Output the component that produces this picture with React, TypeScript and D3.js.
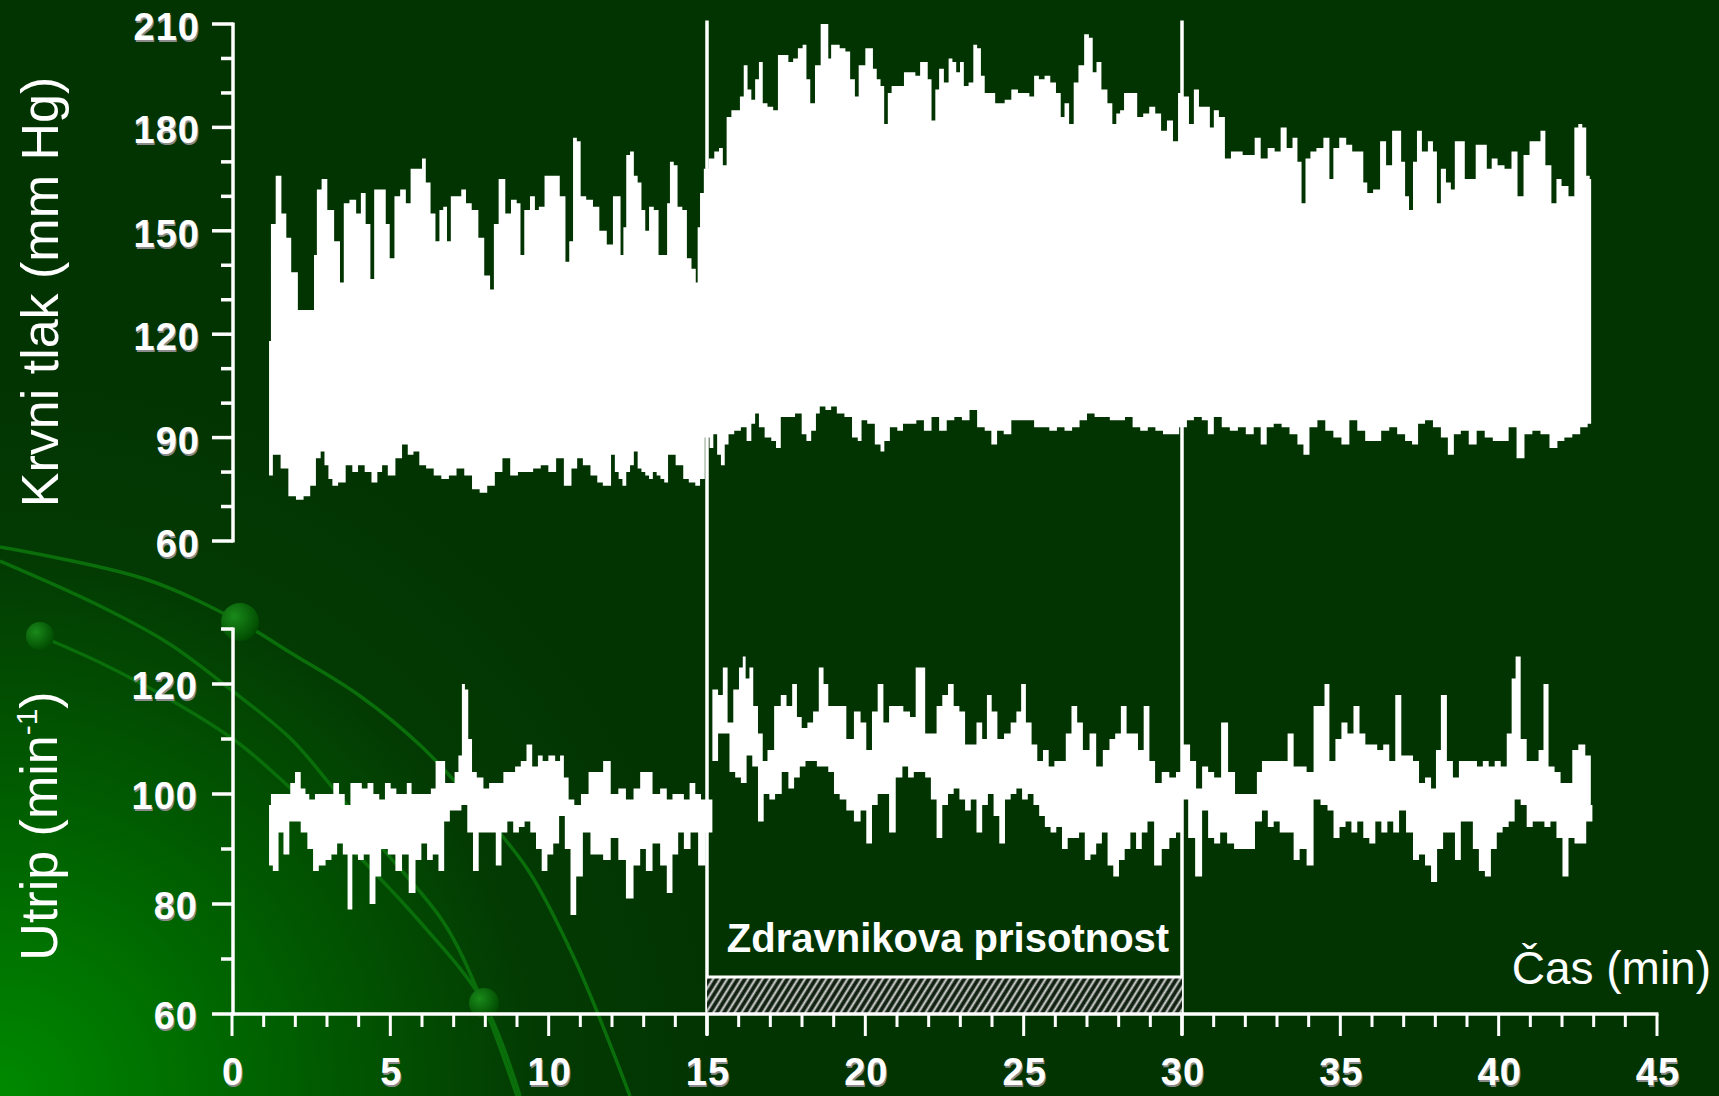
import React, { useEffect } from 'react';
import * as d3 from 'd3';

// ---- Data (time in min, value) ----
const bpUpper: [number, number][] = [
  [1.17,118],[1.29,152],[1.47,166],[1.65,155],[1.78,148],[1.96,138],[2.2,127],[2.56,127],[2.62,143],[2.74,162],[2.92,165],[3.1,156],[3.35,147],[3.47,135],[3.59,158],[3.83,159],[4.01,155],[4.13,161],[4.31,152],[4.43,136],[4.55,162],[4.79,162],[4.92,152],[5.04,142],[5.22,160],[5.4,162],[5.58,158],[5.7,168],[5.94,168],[6.06,171],[6.18,164],[6.36,155],[6.49,147],[6.61,156],[6.73,157],[6.85,147],[6.97,160],[7.15,160],[7.33,162],[7.45,158],[7.69,156],[7.87,148],[8.06,137],[8.24,133],[8.3,152],[8.54,165],[8.72,155],[8.9,159],[9.08,158],[9.14,143],[9.32,156],[9.5,160],[9.63,156],[9.75,157],[9.99,166],[10.23,166],[10.47,160],[10.59,141],[10.71,147],[10.83,177],[10.95,176],[11.07,160],[11.3,159],[11.5,157],[11.7,150],[11.97,146],[12.09,160],[12.21,160],[12.33,143],[12.39,151],[12.51,172],[12.63,173],[12.75,166],[12.87,164],[12.99,156],[13.11,150],[13.23,157],[13.41,156],[13.53,143],[13.71,143],[13.77,158],[13.89,170],[14.01,169],[14.13,157],[14.31,156],[14.42,142],[14.6,139],[14.69,135],[14.72,151],[14.84,161],[14.96,168],[15.14,171],[15.32,173],[15.44,174],[15.56,169],[15.68,183],[15.86,185],[15.98,185],[16.1,189],[16.22,198],[16.34,191],[16.46,188],[16.58,194],[16.7,199],[16.82,187],[17.0,186],[17.18,185],[17.3,201],[17.48,201],[17.66,199],[17.78,200],[17.96,203],[18.08,204],[18.2,194],[18.32,187],[18.5,198],[18.68,210],[18.8,210],[18.86,200],[18.98,204],[19.1,204],[19.28,203],[19.46,202],[19.58,194],[19.76,189],[19.82,198],[19.94,198],[20.06,203],[20.18,203],[20.3,197],[20.42,194],[20.54,192],[20.65,181],[20.77,190],[20.89,192],[21.13,192],[21.31,196],[21.49,196],[21.67,195],[21.79,199],[21.91,199],[22.03,194],[22.15,182],[22.27,191],[22.39,197],[22.57,193],[22.69,200],[22.81,199],[22.93,196],[23.05,199],[23.17,192],[23.35,193],[23.47,204],[23.59,203],[23.71,195],[23.83,190],[24.01,190],[24.19,187],[24.31,187],[24.49,188],[24.73,191],[24.91,190],[25.09,190],[25.27,189],[25.39,195],[25.57,194],[25.75,195],[25.93,193],[26.11,190],[26.23,183],[26.35,187],[26.52,181],[26.64,193],[26.82,198],[27.0,207],[27.12,206],[27.24,196],[27.36,199],[27.55,191],[27.74,187],[27.86,181],[27.99,184],[28.1,185],[28.24,190],[28.49,190],[28.68,183],[28.87,184],[29.06,186],[29.25,184],[29.43,179],[29.62,182],[29.81,176],[29.94,190],[30.13,189],[30.31,181],[30.44,191],[30.63,186],[30.82,186],[30.94,180],[31.07,185],[31.26,183],[31.45,171],[31.64,173],[31.82,173],[32.01,172],[32.2,172],[32.39,177],[32.58,171],[32.83,174],[33.02,173],[33.21,180],[33.4,174],[33.58,177],[33.71,170],[33.84,158],[33.96,171],[34.15,173],[34.34,174],[34.59,177],[34.72,165],[34.84,174],[35.09,177],[35.28,175],[35.47,173],[35.66,173],[35.79,164],[35.91,161],[36.16,162],[36.35,176],[36.54,169],[36.73,179],[36.86,179],[36.98,170],[37.11,160],[37.23,156],[37.36,170],[37.48,179],[37.67,173],[37.86,176],[37.99,173],[38.11,158],[38.24,168],[38.43,164],[38.55,162],[38.68,176],[38.87,176],[38.99,165],[39.18,165],[39.37,175],[39.56,175],[39.69,168],[39.87,171],[40.06,169],[40.31,168],[40.5,173],[40.69,160],[40.88,172],[41.07,176],[41.26,176],[41.38,179],[41.57,169],[41.76,158],[41.89,165],[42.08,163],[42.33,160],[42.45,180],[42.58,181],[42.7,180],[42.83,166],[42.92,165]
];

const bpLower: [number, number][] = [
  [1.17,79],[1.41,85],[1.66,81],[1.9,73],[2.14,72],[2.38,73],[2.56,76],[2.74,84],[2.86,86],[2.98,82],[3.11,78],[3.23,76],[3.47,77],[3.71,82],[3.89,80],[4.07,82],[4.31,80],[4.5,77],[4.68,80],[4.8,82],[5.04,79],[5.28,84],[5.46,88],[5.64,85],[5.82,86],[6.01,82],[6.25,81],[6.49,79],[6.73,78],[6.97,79],[7.21,81],[7.46,79],[7.7,75],[7.94,74],[8.18,76],[8.42,80],[8.66,84],[8.91,79],[9.15,80],[9.39,80],[9.63,81],[9.87,82],[10.11,80],[10.36,84],[10.6,76],[10.84,81],[10.96,84],[11.2,82],[11.44,79],[11.63,77],[11.79,76],[11.91,76],[12.03,85],[12.15,80],[12.27,78],[12.39,76],[12.51,80],[12.63,82],[12.75,86],[12.87,81],[12.99,80],[13.11,79],[13.23,78],[13.35,80],[13.47,79],[13.59,78],[13.71,77],[13.83,85],[13.95,85],[14.07,82],[14.19,82],[14.31,78],[14.54,77],[14.72,76],[14.84,78],[15.02,90],[15.14,87],[15.26,91],[15.38,85],[15.5,82],[15.62,88],[15.74,91],[15.98,92],[16.16,93],[16.34,89],[16.46,94],[16.58,97],[16.7,93],[16.94,90],[17.12,89],[17.24,87],[17.42,96],[17.66,96],[17.9,97],[18.08,91],[18.2,89],[18.38,92],[18.5,97],[18.62,99],[18.86,98],[18.98,99],[19.22,97],[19.46,96],[19.7,90],[19.82,89],[19.94,95],[20.18,94],[20.42,88],[20.54,86],[20.66,89],[20.89,93],[21.13,92],[21.25,94],[21.49,94],[21.73,95],[21.97,92],[22.21,96],[22.45,92],[22.69,95],[22.93,96],[23.17,95],[23.41,98],[23.65,93],[23.89,92],[24.07,88],[24.25,92],[24.49,91],[24.73,95],[24.97,95],[25.21,95],[25.45,93],[25.69,93],[25.93,92],[26.17,93],[26.41,92],[26.65,93],[26.88,95],[27.12,97],[27.36,96],[27.6,96],[27.84,95],[28.08,95],[28.32,96],[28.56,93],[28.8,92],[29.04,93],[29.28,92],[29.52,91],[29.76,91],[30.06,93],[30.25,95],[30.5,96],[30.75,95],[30.88,91],[31.13,96],[31.38,93],[31.64,92],[31.89,93],[32.14,91],[32.39,93],[32.58,88],[32.77,93],[33.02,94],[33.27,93],[33.52,91],[33.77,88],[33.9,85],[34.15,93],[34.4,95],[34.65,92],[34.91,90],[35.16,88],[35.41,95],[35.66,92],[35.91,89],[36.16,89],[36.42,92],[36.67,93],[36.92,91],[37.17,89],[37.36,88],[37.55,94],[37.8,95],[38.05,93],[38.3,90],[38.49,85],[38.68,91],[38.93,92],[39.18,88],[39.43,92],[39.69,90],[39.94,89],[40.19,89],[40.44,93],[40.69,84],[40.94,91],[41.19,92],[41.45,91],[41.76,87],[41.95,89],[42.2,90],[42.45,91],[42.7,93],[42.92,94]
];

const hrUpper: [number, number][] = [
  [1.17,98],[1.29,100],[1.78,100],[1.9,102],[2.08,104],[2.26,101],[2.38,100],[2.5,99],[2.74,100],[2.92,100],[3.11,100],[3.29,102],[3.47,100],[3.65,98],[3.83,102],[4.01,102],[4.19,101],[4.37,102],[4.56,100],[4.74,99],[4.92,102],[5.1,101],[5.28,100],[5.46,100],[5.58,102],[5.76,100],[6.01,100],[6.19,100],[6.37,101],[6.49,106],[6.67,106],[6.79,102],[6.97,102],[7.09,104],[7.21,107],[7.31,120],[7.4,119],[7.52,110],[7.64,104],[7.82,103],[8.06,101],[8.18,102],[8.36,102],[8.48,102],[8.66,104],[8.85,104],[9.03,105],[9.21,106],[9.39,109],[9.57,105],[9.75,107],[9.87,106],[10.11,107],[10.3,106],[10.42,107],[10.54,103],[10.72,99],[10.9,98],[11.14,100],[11.38,104],[11.6,104],[11.84,106],[12.08,100],[12.32,101],[12.56,99],[12.8,101],[12.98,104],[13.16,104],[13.4,100],[13.64,101],[13.82,99],[14.0,100],[14.18,100],[14.36,99],[14.54,102],[14.72,100],[14.9,99],[15.08,99],[15.26,119],[15.44,118],[15.56,123],[15.74,113],[15.92,119],[16.1,123],[16.16,125],[16.28,121],[16.4,123],[16.52,116],[16.7,111],[16.82,106],[17.0,108],[17.24,116],[17.42,118],[17.6,116],[17.78,120],[17.9,114],[18.08,112],[18.26,113],[18.44,115],[18.62,123],[18.74,120],[18.92,116],[19.1,116],[19.28,116],[19.52,110],[19.76,115],[19.94,113],[20.12,108],[20.3,115],[20.48,120],[20.66,113],[20.84,116],[21.08,116],[21.32,115],[21.5,114],[21.68,123],[21.8,123],[21.98,111],[22.16,111],[22.34,116],[22.52,118],[22.7,120],[22.88,116],[23.06,115],[23.24,109],[23.42,109],[23.6,113],[23.78,110],[23.9,118],[24.08,115],[24.26,110],[24.5,111],[24.68,113],[24.86,115],[24.98,120],[25.16,113],[25.34,109],[25.52,106],[25.7,108],[25.88,105],[26.06,106],[26.24,106],[26.42,111],[26.6,116],[26.78,113],[26.96,108],[27.2,111],[27.38,105],[27.62,108],[27.8,110],[27.98,111],[28.16,116],[28.34,111],[28.52,111],[28.7,108],[28.88,116],[29.06,106],[29.24,102],[29.48,104],[29.72,103],[29.9,104],[30.16,109],[30.35,106],[30.54,101],[30.73,105],[30.92,104],[31.11,103],[31.36,113],[31.55,104],[31.8,100],[32.05,100],[32.3,100],[32.43,104],[32.62,106],[32.8,106],[32.99,106],[33.24,106],[33.43,111],[33.62,105],[33.81,105],[34.06,104],[34.25,116],[34.44,116],[34.56,120],[34.75,106],[34.94,110],[35.13,113],[35.32,111],[35.51,116],[35.7,111],[35.88,109],[36.07,109],[36.26,108],[36.45,109],[36.64,106],[36.83,118],[37.02,107],[37.2,107],[37.39,106],[37.58,102],[37.77,103],[37.96,101],[38.08,108],[38.27,118],[38.46,106],[38.65,103],[38.84,106],[39.03,106],[39.22,106],[39.41,105],[39.59,106],[39.78,105],[39.97,106],[40.16,105],[40.35,111],[40.47,121],[40.6,125],[40.79,110],[40.98,106],[41.17,106],[41.35,108],[41.48,120],[41.67,105],[41.86,104],[42.05,102],[42.23,102],[42.42,108],[42.61,109],[42.86,107],[42.96,98]
];

const hrLower: [number, number][] = [
  [1.17,87],[1.41,86],[1.53,93],[1.72,89],[1.9,95],[2.08,95],[2.26,93],[2.5,90],[2.62,86],[2.86,87],[3.05,88],[3.23,89],[3.41,91],[3.59,89],[3.71,79],[3.89,89],[4.07,88],[4.25,89],[4.44,80],[4.62,85],[4.8,90],[5.04,89],[5.28,86],[5.46,89],[5.7,82],[5.89,88],[6.07,91],[6.25,88],[6.43,89],[6.61,86],[6.79,95],[6.97,97],[7.15,97],[7.34,98],[7.52,93],[7.7,86],[7.88,93],[8.06,93],[8.24,93],[8.42,87],[8.6,93],[8.79,95],[8.97,93],[9.15,94],[9.33,95],[9.51,93],[9.69,90],[9.87,86],[10.05,89],[10.24,91],[10.42,96],[10.6,90],[10.78,78],[10.96,85],[11.2,93],[11.44,89],[11.6,89],[11.84,88],[12.08,92],[12.32,88],[12.56,81],[12.8,87],[12.98,90],[13.16,86],[13.4,91],[13.64,87],[13.82,82],[14.0,89],[14.18,93],[14.36,90],[14.6,93],[14.84,87],[15.08,93],[15.26,106],[15.44,111],[15.62,111],[15.8,104],[15.98,103],[16.16,102],[16.34,107],[16.52,105],[16.7,95],[16.88,100],[17.06,99],[17.24,100],[17.48,104],[17.66,101],[17.84,103],[18.02,105],[18.2,106],[18.38,106],[18.56,105],[18.74,105],[18.92,104],[19.1,100],[19.28,99],[19.52,97],[19.76,95],[19.94,97],[20.12,91],[20.3,98],[20.48,100],[20.66,100],[20.84,93],[21.08,103],[21.26,105],[21.44,103],[21.62,104],[21.8,104],[21.98,103],[22.16,99],[22.34,92],[22.52,98],[22.7,100],[22.88,101],[23.06,99],[23.24,97],[23.42,99],[23.6,93],[23.78,98],[23.96,100],[24.14,96],[24.32,91],[24.5,99],[24.68,100],[24.86,101],[25.04,99],[25.22,100],[25.4,98],[25.58,96],[25.76,94],[25.94,93],[26.12,94],[26.3,90],[26.48,92],[26.66,92],[26.84,93],[27.02,88],[27.2,89],[27.38,91],[27.56,93],[27.74,87],[27.92,85],[28.1,88],[28.28,90],[28.46,93],[28.64,90],[28.82,93],[29.0,95],[29.24,87],[29.48,90],[29.72,92],[29.9,93],[30.1,99],[30.29,92],[30.54,85],[30.73,97],[30.92,92],[31.11,91],[31.3,93],[31.55,91],[31.74,90],[31.92,90],[32.18,90],[32.43,95],[32.62,97],[32.8,94],[32.99,95],[33.18,93],[33.43,93],[33.62,88],[33.81,90],[34.06,87],[34.25,99],[34.5,98],[34.69,97],[34.88,92],[35.07,94],[35.26,95],[35.44,93],[35.63,95],[35.82,92],[36.01,91],[36.2,95],[36.39,93],[36.58,95],[36.76,93],[36.95,97],[37.2,93],[37.39,88],[37.58,89],[37.77,87],[37.96,84],[38.15,90],[38.34,93],[38.53,93],[38.71,88],[38.9,95],[39.09,95],[39.28,90],[39.47,86],[39.66,85],[39.85,90],[40.03,93],[40.22,94],[40.41,95],[40.6,99],[40.79,98],[40.98,94],[41.17,95],[41.35,95],[41.54,94],[41.73,95],[41.92,92],[42.11,85],[42.3,92],[42.49,91],[42.67,91],[42.86,95],[42.96,95]
];

const bpTickLabels = [60, 90, 120, 150, 180, 210];
const hrTickLabels = [60, 80, 100, 120];
const timeTickLabels = [0, 5, 10, 15, 20, 25, 30, 35, 40, 45];
const presence = [15, 30];
const presenceLabel = 'Zdravnikova prisotnost';
const bpTitle = 'Krvni tlak (mm Hg)';
const timeTitle = 'Čas (min)';

// decorative slide arcs (background ornament)
const arcA: [number, number][] = [[0,547],[145,579],[240,622],[291,653],[360,696],[421,746],[480,810],[528,870],[575,960],[630,1096]];
const arcB: [number, number][] = [[0,561],[96,604],[168,643],[230,689],[291,739],[333,788],[383,849],[444,923],[482,1001],[517,1096]];
const arcC: [number, number][] = [[40,636],[103,664],[176,703],[237,742],[287,785],[344,841],[421,923],[484,1003],[520,1096]];

const BG = '#023402';
const FONT = "'Liberation Sans', Arial, Helvetica, sans-serif";

export default function App() {
  useEffect(() => {
    document.body.style.margin = '0';
    document.body.style.background = BG;
  }, []);

  const W = 1719, H = 1096;
  const x = d3.scaleLinear().domain([0, 45]).range([232, 1657]);
  const yBP = d3.scaleLinear().domain([60, 210]).range([541, 24]);
  const yHR = d3.scaleLinear().domain([60, 120]).range([1014, 684]);
  const axisX = x(0) + 1;
  const axisY = yHR(60);

  const band = (up: [number, number][], lo: [number, number][], y: d3.ScaleLinear<number, number>) => {
    const pts: [number, number][] = [
      ...up.map(d => [x(d[0]), y(d[1])] as [number, number]),
      ...lo.slice().reverse().map(d => [x(d[0]), y(d[1])] as [number, number]),
    ];
    return (d3.line().curve(d3.curveStep)(pts) || '') + 'Z';
  };

  const arcLine = d3.line().curve(d3.curveCatmullRom);

  const bpMinor = d3.range(60, 211, 10);
  const hrMinor = d3.range(60, 131, 10);
  const tMinor = d3.range(0, 46, 1);

  const tickLabel = (key: string, tx: number, ty: number, txt: string, anchor: string) => (
    <g key={key}>
      <text x={tx + 1} y={ty + 2} fill="#8a8a8a" fontSize={38} fontWeight="bold" fontFamily={FONT} textAnchor={anchor} letterSpacing={1}>{txt}</text>
      <text x={tx} y={ty} fill="#ffffff" fontSize={38} fontWeight="bold" fontFamily={FONT} textAnchor={anchor} letterSpacing={1}>{txt}</text>
    </g>
  );

  const ws = 3.5;

  return (
    <svg width={W} height={H} viewBox={`0 0 ${W} ${H}`} style={{ position: 'absolute', left: 0, top: 0, display: 'block' }}>
      <defs>
        <radialGradient id="glow" cx={0} cy={H} r={720} gradientUnits="userSpaceOnUse">
          <stop offset="0" stopColor="#008a00" />
          <stop offset="0.35" stopColor="#006400" />
          <stop offset="0.75" stopColor="#033a03" />
          <stop offset="1" stopColor={BG} />
        </radialGradient>
        <radialGradient id="ball" cx="0.35" cy="0.35" r="0.7">
          <stop offset="0" stopColor="#1a8a1a" />
          <stop offset="1" stopColor="#004a00" />
        </radialGradient>
        <pattern id="hatch" patternUnits="userSpaceOnUse" width={6} height={6} patternTransform="rotate(32)">
          <rect width={6} height={6} fill="#122212" />
          <line x1={1.5} y1={0} x2={1.5} y2={6} stroke="#d8d8d8" strokeWidth={2} />
        </pattern>
      </defs>

      <rect x={0} y={0} width={W} height={H} fill={BG} />
      <rect x={0} y={0} width={W} height={H} fill="url(#glow)" />

      {/* ornaments */}
      <g fill="none" stroke="#0a6e0a" strokeWidth={3.5}>
        <path d={arcLine(arcA) || ''} />
        <path d={arcLine(arcB) || ''} />
        <path d={arcLine(arcC) || ''} />
      </g>
      <circle cx={240} cy={622} r={19} fill="url(#ball)" />
      <circle cx={40} cy={636} r={14} fill="url(#ball)" />
      <circle cx={484} cy={1003} r={15} fill="url(#ball)" />

      {/* data bands */}
      <path d={band(bpUpper, bpLower, yBP)} fill="#ffffff" />
      <path d={band(hrUpper, hrLower, yHR)} fill="#ffffff" />

      {/* presence markers */}
      {presence.map((t, i) => (
        <line key={'pv' + i} x1={x(t)} x2={x(t)} y1={yBP(211)} y2={axisY + 21} stroke="#ffffff" strokeWidth={ws} />
      ))}
      <rect x={x(presence[0])} y={977} width={x(presence[1]) - x(presence[0])} height={axisY - 977} fill="url(#hatch)" />
      <line x1={x(presence[0])} x2={x(presence[1])} y1={977} y2={977} stroke="#ffffff" strokeWidth={3} />
      <text x={948} y={952} fill="#ffffff" fontSize={40} fontWeight="bold" fontFamily={FONT} textAnchor="middle">{presenceLabel}</text>

      {/* BP axis */}
      <line x1={axisX} x2={axisX} y1={yBP(210) - 1.5} y2={yBP(60) + 1.5} stroke="#ffffff" strokeWidth={ws} />
      {bpMinor.map(v => (
        <line key={'bt' + v} x1={axisX - (v % 30 === 0 ? 21 : 12)} x2={axisX} y1={yBP(v)} y2={yBP(v)} stroke="#ffffff" strokeWidth={ws} />
      ))}
      {bpTickLabels.map(v => tickLabel('bl' + v, axisX - 33, yBP(v) + 16, String(v), 'end'))}

      {/* HR axis */}
      <line x1={axisX} x2={axisX} y1={yHR(130) - 1.5} y2={axisY + 1.5} stroke="#ffffff" strokeWidth={ws} />
      {hrMinor.map(v => (
        <line key={'ht' + v} x1={axisX - (v % 20 === 0 ? 21 : 12)} x2={axisX} y1={yHR(v)} y2={yHR(v)} stroke="#ffffff" strokeWidth={ws} />
      ))}
      {hrTickLabels.map(v => tickLabel('hl' + v, axisX - 35, yHR(v) + 15, String(v), 'end'))}

      {/* time axis */}
      <line x1={x(0)} x2={x(45) + 1.5} y1={axisY} y2={axisY} stroke="#ffffff" strokeWidth={ws} />
      {tMinor.map(t => (
        <line key={'tt' + t} x1={x(t)} x2={x(t)} y1={axisY} y2={axisY + (t % 5 === 0 ? 22 : 13)} stroke="#ffffff" strokeWidth={3} />
      ))}
      {timeTickLabels.map(t => tickLabel('tl' + t, x(t) + 1, 1085, String(t), 'middle'))}

      {/* titles */}
      <text transform="translate(58,292) rotate(-90)" fill="#ffffff" fontSize={52} fontFamily={FONT} textAnchor="middle">{bpTitle}</text>
      <text transform="translate(57,826) rotate(-90)" fill="#ffffff" fontSize={52} fontFamily={FONT} textAnchor="middle">
        Utrip (min<tspan dy={-20} fontSize={30}>-1</tspan><tspan dy={20}>)</tspan>
      </text>
      <text x={1711} y={984} fill="#ffffff" fontSize={46} fontFamily={FONT} textAnchor="end">{timeTitle}</text>
    </svg>
  );
}
